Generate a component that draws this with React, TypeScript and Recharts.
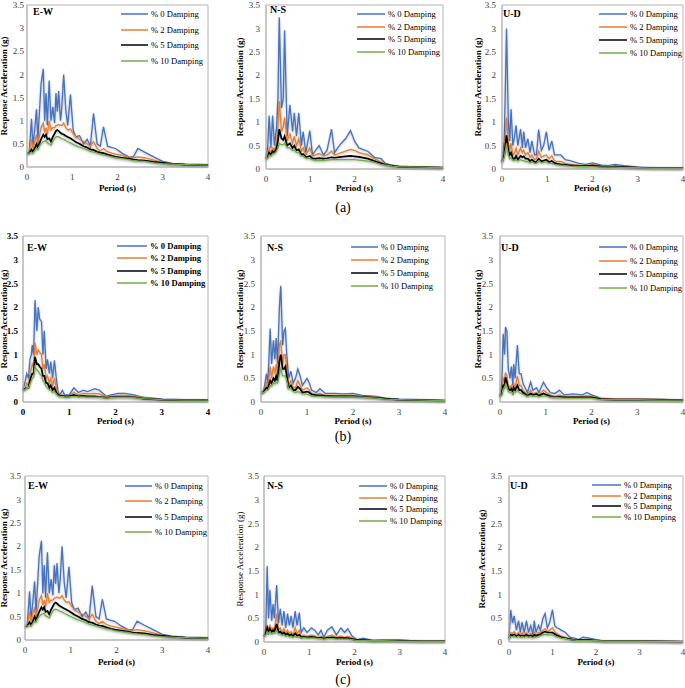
import React from 'react';
import { LineChart, Line, XAxis, YAxis, ReferenceArea, Legend } from 'recharts';

const SERIF = '"Liberation Serif", "Times New Roman", serif';
const SERIES = ['% 0 Damping', '% 2 Damping', '% 5 Damping', '% 10 Damping'];
const COLORS = ['#4472C4', '#ED7D31', '#000000', '#70AD47'];
const KEYS = ['d0', 'd2', 'd5', 'd10'];
const X_TICKS = [0, 1, 2, 3, 4];
const Y_TICKS = [0, 0.5, 1, 1.5, 2, 2.5, 3, 3.5];
const FRAME = '#b4b4b4';

// E-W, rows (a) and (c)
const ewPeriod = [0, .05, .1, .13, .17, .21, .24, .27, .31, .36, .39, .42, .45, .49, .53, .57, .61, .64, .67, .7, .74, .77, .81, .86, .9, .96, 1.02, 1.08, 1.16, 1.25, 1.33, 1.4, 1.47, 1.55, 1.62, 1.69, 1.78, 1.88, 1.96, 2.1, 2.25, 2.35, 2.45, 2.6, 2.8, 3.0, 3.2, 3.5, 4.0];
const ewD0 = [.3, .32, 1.04, .45, .8, 1.25, .6, 1.1, 1.79, 2.12, 1.0, 1.6, .9, 1.87, 1.0, 1.3, .95, 1.6, 1.2, 1.64, 1.0, 1.3, 2.0, 1.2, .9, 1.57, .8, .65, .68, .5, .6, .45, 1.16, .5, .45, .87, .45, .42, .4, .3, .22, .22, .4, .32, .22, .12, .08, .06, .05];
const ewD2 = [.3, .32, .6, .4, .55, .7, .5, .65, .85, .95, .75, .85, .7, 1.0, .8, .85, .85, .9, .9, .92, .9, .9, .95, .85, .8, .82, .72, .65, .6, .55, .5, .45, .55, .4, .35, .4, .33, .3, .28, .25, .22, .2, .22, .2, .15, .1, .07, .05, .04];
const ewD5 = [.3, .3, .38, .32, .4, .5, .42, .5, .6, .7, .65, .7, .6, .62, .55, .65, .72, .78, .8, .78, .74, .72, .7, .67, .65, .62, .58, .54, .5, .45, .42, .38, .37, .33, .31, .3, .27, .24, .22, .2, .18, .16, .15, .14, .11, .09, .07, .05, .04];
const ewD10 = [.3, .3, .32, .3, .35, .4, .38, .45, .5, .55, .56, .57, .52, .5, .47, .55, .62, .65, .66, .65, .63, .61, .6, .57, .55, .52, .49, .46, .43, .4, .37, .34, .32, .3, .28, .26, .24, .22, .2, .18, .16, .14, .13, .12, .09, .07, .06, .05, .04];

// N-S, row (a)
const aNsPeriod = [0, .04, .07, .11, .15, .19, .24, .27, .3, .35, .39, .42, .48, .54, .6, .64, .69, .74, .8, .84, .9, .99, 1.05, 1.12, 1.2, 1.3, 1.38, 1.48, 1.55, 1.62, 1.7, 1.8, 1.91, 2.0, 2.1, 2.3, 2.45, 2.6, 2.7, 2.85, 3.0, 3.5, 4.0];
const aNsD0 = [.22, .5, 1.14, .45, 1.14, .5, .9, 1.5, 3.24, 1.3, 1.5, 2.96, .7, 1.37, .8, 1.2, .7, 1.2, .5, .8, .35, .82, .3, .4, .5, .3, .4, .85, .35, .45, .55, .65, .82, .6, .45, .38, .25, .22, .12, .08, .06, .04, .03];
const aNsD2 = [.22, .3, .45, .35, .45, .4, .55, .9, 1.45, .8, .9, 1.1, .6, .75, .55, .7, .5, .65, .38, .45, .3, .45, .28, .3, .33, .28, .3, .38, .3, .32, .35, .38, .42, .4, .35, .3, .22, .15, .1, .07, .05, .04, .03];
const aNsD5 = [.22, .25, .35, .3, .38, .35, .45, .6, .85, .65, .62, .7, .5, .55, .45, .5, .4, .42, .3, .32, .25, .28, .22, .22, .23, .22, .23, .25, .24, .25, .26, .27, .28, .27, .26, .22, .17, .12, .09, .07, .05, .04, .03];
const aNsD10 = [.22, .23, .3, .28, .32, .33, .38, .45, .55, .52, .52, .55, .45, .45, .4, .4, .35, .35, .28, .28, .23, .22, .2, .18, .18, .18, .19, .2, .2, .2, .2, .2, .2, .2, .19, .17, .14, .1, .08, .06, .05, .04, .03];

// U-D, row (a)
const aUdPeriod = [0, .05, .1, .14, .17, .2, .24, .28, .31, .35, .41, .45, .48, .52, .57, .62, .66, .72, .76, .81, .87, .92, .98, 1.04, 1.1, 1.16, 1.22, 1.3, 1.4, 1.5, 1.7, 1.85, 2.0, 2.2, 2.35, 2.5, 2.7, 3.0, 3.3, 4.0];
const aUdD0 = [.15, .6, 3.0, 1.0, .6, 1.28, .5, .7, .93, .5, .85, .45, .8, .45, .65, .35, .6, .3, .3, .84, .4, .5, .8, .4, .6, .3, .3, .3, .2, .18, .12, .1, .13, .08, .07, .1, .07, .04, .03, .02];
const aUdD2 = [.15, .4, 1.1, .55, .4, .55, .3, .35, .45, .3, .45, .35, .4, .3, .35, .25, .3, .2, .22, .38, .25, .28, .3, .22, .28, .18, .16, .16, .12, .1, .08, .07, .1, .06, .05, .07, .05, .03, .03, .02];
const aUdD5 = [.15, .3, .72, .4, .3, .35, .22, .22, .28, .2, .28, .25, .27, .22, .22, .17, .2, .15, .15, .22, .17, .18, .2, .15, .17, .13, .11, .1, .09, .08, .06, .06, .07, .05, .04, .05, .04, .03, .02, .02];
const aUdD10 = [.15, .25, .55, .3, .22, .25, .18, .18, .2, .17, .2, .18, .18, .16, .16, .13, .15, .12, .12, .17, .13, .14, .15, .12, .12, .1, .09, .08, .07, .06, .05, .05, .05, .04, .04, .04, .03, .03, .02, .02];

// E-W, row (b)
const bEwPeriod = [0, .05, .08, .12, .15, .18, .2, .23, .26, .3, .33, .36, .4, .43, .46, .5, .53, .57, .6, .64, .68, .72, .76, .8, .85, .9, 1.0, 1.1, 1.2, 1.3, 1.4, 1.55, 1.65, 1.8, 1.9, 2.05, 2.2, 2.4, 2.6, 2.8, 3.0, 3.5, 4.0];
const bEwD0 = [.25, .45, .6, .5, .9, 1.0, 1.2, 1.0, 2.15, 1.5, 2.0, 1.75, 1.7, 1.0, 1.5, .7, .9, .6, .85, .5, .88, .5, .2, .15, .25, .15, .15, .3, .2, .25, .22, .28, .25, .12, .15, .18, .18, .15, .1, .08, .06, .05, .04];
const bEwD2 = [.25, .3, .4, .35, .6, .7, .8, .75, 1.25, 1.0, 1.1, 1.05, 1.0, .7, .8, .5, .55, .4, .5, .35, .5, .3, .18, .14, .15, .13, .13, .2, .15, .18, .17, .18, .17, .1, .12, .14, .14, .12, .09, .07, .05, .04, .04];
const bEwD5 = [.25, .28, .3, .3, .45, .55, .6, .6, .95, .8, .8, .75, .7, .55, .55, .4, .4, .3, .35, .25, .3, .2, .15, .13, .13, .12, .12, .15, .12, .13, .12, .12, .11, .09, .1, .11, .11, .1, .07, .06, .05, .04, .04];
const bEwD10 = [.25, .26, .3, .3, .38, .45, .5, .52, .75, .68, .65, .6, .55, .45, .42, .33, .3, .25, .25, .2, .22, .17, .13, .12, .12, .11, .11, .12, .11, .11, .1, .1, .1, .08, .09, .1, .1, .09, .07, .06, .05, .04, .04];

// N-S, row (b)
const bNsPeriod = [0, .05, .08, .12, .15, .2, .23, .27, .3, .33, .36, .4, .43, .47, .5, .53, .56, .6, .65, .7, .75, .8, .85, .9, 1.0, 1.05, 1.1, 1.2, 1.28, 1.4, 1.6, 1.8, 2.0, 2.2, 2.5, 2.7, 3.0, 3.5, 4.0];
const bNsD0 = [.2, .22, .35, .6, .4, 1.55, .8, 1.3, .9, 1.35, .8, 2.0, 2.45, 1.2, 1.5, 1.55, 1.0, .5, .65, .4, .5, .7, .55, .35, .5, .4, .25, .2, .28, .18, .18, .17, .18, .14, .12, .08, .06, .05, .03];
const bNsD2 = [.2, .21, .28, .4, .32, .75, .5, .75, .6, .8, .6, 1.2, 1.3, .8, 1.0, 1.0, .7, .35, .45, .3, .3, .45, .35, .25, .3, .25, .18, .16, .18, .14, .14, .14, .14, .12, .1, .07, .05, .04, .03];
const bNsD5 = [.2, .2, .25, .3, .28, .45, .4, .5, .45, .55, .45, .85, 1.0, .7, .7, .75, .55, .3, .35, .25, .25, .32, .28, .2, .22, .2, .16, .14, .14, .13, .12, .12, .12, .11, .09, .07, .05, .04, .03];
const bNsD10 = [.2, .2, .22, .25, .25, .35, .33, .4, .38, .42, .4, .6, .7, .55, .55, .55, .45, .28, .28, .22, .2, .22, .2, .17, .16, .15, .13, .12, .12, .11, .11, .11, .11, .1, .08, .06, .05, .04, .03];

// U-D, row (b)
const bUdPeriod = [0, .04, .07, .1, .12, .15, .18, .22, .25, .28, .3, .33, .38, .42, .46, .5, .55, .6, .67, .72, .8, .85, .95, 1.02, 1.1, 1.2, 1.3, 1.4, 1.6, 1.8, 1.9, 2.0, 2.2, 2.5, 3.0, 3.5, 4.0];
const bUdD0 = [.12, .4, 1.44, 1.0, 1.58, 1.5, .7, .5, .75, .35, .8, .5, 1.2, .6, .6, .4, .3, .2, .42, .25, .3, .2, .42, .3, .2, .18, .25, .15, .17, .15, .2, .15, .08, .06, .06, .05, .04];
const bUdD2 = [.12, .25, .5, .45, .62, .55, .35, .3, .35, .25, .4, .3, .55, .35, .35, .25, .2, .15, .25, .17, .2, .15, .25, .2, .15, .12, .15, .12, .12, .12, .13, .12, .07, .06, .06, .05, .04];
const bUdD5 = [.12, .18, .35, .35, .52, .42, .28, .25, .28, .2, .3, .25, .35, .25, .25, .2, .17, .13, .18, .15, .17, .13, .18, .15, .12, .1, .11, .1, .1, .1, .1, .1, .06, .05, .05, .05, .04];
const bUdD10 = [.12, .15, .28, .28, .38, .33, .22, .2, .22, .17, .22, .2, .25, .2, .18, .16, .14, .12, .14, .12, .13, .11, .13, .12, .1, .09, .09, .08, .08, .08, .08, .08, .05, .05, .05, .04, .04];

// N-S, row (c)
const cNsPeriod = [0, .04, .07, .1, .13, .17, .2, .23, .28, .32, .36, .4, .44, .48, .52, .56, .6, .64, .69, .73, .78, .82, .88, .95, 1.05, 1.12, 1.2, 1.26, 1.32, 1.4, 1.5, 1.6, 1.7, 1.78, 1.85, 1.95, 2.05, 2.2, 2.4, 2.6, 3.0, 3.5, 4.0];
const cNsD0 = [.12, .3, 1.6, .5, 1.1, .45, .8, .5, 1.2, .4, .7, .35, .65, .3, .6, .35, .55, .3, .65, .35, .62, .2, .3, .2, .3, .25, .15, .25, .1, .25, .32, .15, .3, .2, .28, .12, .05, .08, .03, .04, .04, .02, .02];
const cNsD2 = [.12, .2, .35, .25, .35, .25, .3, .25, .6, .25, .3, .2, .28, .18, .25, .18, .22, .15, .3, .17, .25, .12, .15, .12, .15, .13, .1, .12, .08, .12, .15, .1, .13, .1, .12, .08, .04, .05, .03, .03, .03, .02, .02];
const cNsD5 = [.12, .18, .3, .2, .28, .2, .25, .22, .38, .2, .22, .17, .2, .15, .18, .14, .16, .12, .18, .13, .15, .1, .11, .1, .11, .1, .08, .09, .07, .09, .1, .08, .09, .08, .08, .06, .04, .04, .03, .03, .03, .02, .02];
const cNsD10 = [.12, .15, .22, .18, .22, .17, .2, .18, .25, .17, .17, .14, .15, .12, .13, .11, .12, .1, .12, .1, .11, .08, .09, .08, .08, .08, .07, .07, .06, .07, .07, .06, .06, .06, .06, .05, .03, .03, .03, .03, .02, .02, .02];

// U-D, row (c)
const cUdPeriod = [0, .04, .08, .12, .17, .22, .26, .3, .35, .4, .45, .5, .55, .58, .62, .68, .72, .78, .83, .88, .93, 1.0, 1.05, 1.1, 1.15, 1.2, 1.3, 1.4, 1.5, 1.6, 1.7, 1.85, 2.0, 2.2, 2.5, 3.0, 4.0];
const cUdD0 = [.08, .68, .4, .55, .25, .45, .2, .42, .2, .45, .2, .35, .15, .45, .2, .35, .25, .5, .6, .3, .4, .68, .35, .3, .28, .25, .2, .1, .08, .05, .1, .08, .05, .02, .02, .02, .01];
const cUdD2 = [.08, .2, .18, .22, .15, .2, .15, .2, .15, .2, .15, .18, .13, .2, .15, .2, .2, .25, .28, .22, .25, .3, .22, .18, .15, .13, .1, .07, .05, .04, .05, .05, .04, .02, .02, .02, .01];
const cUdD5 = [.08, .15, .14, .16, .12, .15, .12, .14, .12, .15, .12, .14, .11, .15, .13, .15, .16, .2, .22, .2, .2, .2, .17, .14, .12, .1, .08, .06, .04, .04, .04, .04, .03, .02, .02, .02, .01];
const cUdD10 = [.08, .12, .11, .12, .1, .12, .1, .11, .1, .12, .1, .11, .09, .11, .1, .12, .13, .15, .16, .15, .15, .15, .13, .11, .1, .08, .07, .05, .04, .03, .03, .03, .03, .02, .02, .02, .01];

type Geo = {
  pl: number; pt: number; pr: number; pb: number;
  yTitleX: number; yTickGap: number; xTitleDy: number;
  lx1: number; lx2: number; ly: number; lgap: number;
  labelX: number; labelY: number;
};

type PanelProps = {
  title: string;
  period: number[];
  values: number[][];
  geo: Geo;
  boldTicks?: boolean;
  boldLegend?: boolean;
  plainYTitle?: boolean;
};

function Panel({ title, period, values, geo, boldTicks, boldLegend, plainYTitle }: PanelProps) {
  const mt = 8;
  const mr = 4;
  const mb = 3;
  const left = geo.yTitleX - 7;
  const top = geo.pt - mt;
  const yw = geo.pl - left;
  const xh = geo.xTitleDy + 3;
  const width = yw + (geo.pr - geo.pl) + mr;
  const height = mt + (geo.pb - geo.pt) + xh + mb;
  const rows = period.map((t, i) => ({
    t,
    d0: values[0][i],
    d2: values[1][i],
    d5: values[2][i],
    d10: values[3][i],
  }));
  const tick = {
    fontSize: 9,
    fontFamily: SERIF,
    fill: boldTicks ? '#000' : '#404040',
    fontWeight: boldTicks ? 700 : 400,
  };
  const lineLen = geo.lx2 - geo.lx1;

  return (
    <div style={{ position: 'absolute', left, top, width, height }}>
      <LineChart
        width={width}
        height={height}
        data={rows}
        margin={{ top: mt, right: mr, left: 0, bottom: mb }}
      >
        <XAxis
          dataKey="t"
          type="number"
          domain={[0, 4]}
          ticks={X_TICKS}
          interval={0}
          height={xh}
          tickLine={false}
          tickSize={4}
          tickMargin={3}
          axisLine={{ stroke: FRAME }}
          tick={tick}
          label={{
            value: 'Period (s)',
            position: 'insideBottom',
            offset: 0,
            style: { fontSize: 9, fontWeight: 700, fontFamily: SERIF, fill: '#000' },
          }}
        />
        <YAxis
          type="number"
          domain={[0, 3.5]}
          ticks={Y_TICKS}
          interval={0}
          width={yw}
          tickLine={false}
          tickSize={0}
          tickMargin={geo.yTickGap}
          axisLine={{ stroke: FRAME }}
          tick={tick}
          label={{
            value: 'Response Acceleration (g)',
            angle: -90,
            position: 'insideLeft',
            offset: geo.yTitleX - left,
            style: {
              textAnchor: 'middle',
              fontSize: 9,
              fontWeight: plainYTitle ? 400 : 700,
              fontFamily: SERIF,
              fill: '#000',
            },
          }}
        />
        <ReferenceArea x1={0} x2={4} y1={0} y2={3.5} fill="none" stroke={FRAME} strokeWidth={1} ifOverflow="visible" />
        {KEYS.map((k, i) => (
          <Line
            key={k}
            dataKey={k}
            name={SERIES[i]}
            type="linear"
            stroke={COLORS[i]}
            strokeWidth={i === 2 ? 1.7 : 1.3}
            dot={false}
            activeDot={false}
            isAnimationActive={false}
          />
        ))}
        <Legend
          layout="vertical"
          align="center"
          verticalAlign="middle"
          wrapperStyle={{ left: geo.lx1 - left, top: geo.ly - top - 6, width: 90, height: geo.lgap * 3 + 12 }}
          content={() => (
            <div style={{ position: 'relative', width: 90, height: geo.lgap * 3 + 12 }}>
              {SERIES.map((s, i) => (
                <div
                  key={s}
                  style={{
                    position: 'absolute',
                    left: 0,
                    top: i * geo.lgap,
                    height: 12,
                    display: 'flex',
                    alignItems: 'center',
                    whiteSpace: 'nowrap',
                  }}
                >
                  <svg width={lineLen} height={4} style={{ display: 'block' }}>
                    <line x1={0} y1={2} x2={lineLen} y2={2} stroke={COLORS[i]} strokeWidth={1.5} />
                  </svg>
                  <span
                    style={{
                      marginLeft: 3,
                      fontSize: 8.6,
                      lineHeight: '12px',
                      fontFamily: SERIF,
                      fontWeight: boldLegend ? 700 : 400,
                      color: '#000',
                    }}
                  >
                    {s}
                  </span>
                </div>
              ))}
            </div>
          )}
        />
      </LineChart>
      <div
        style={{
          position: 'absolute',
          left: geo.labelX - left,
          top: geo.labelY - top - 7,
          fontSize: 10,
          lineHeight: '14px',
          fontWeight: 700,
          fontFamily: SERIF,
          color: '#000',
        }}
      >
        {title}
      </div>
    </div>
  );
}

function Caption({ text, y }: { text: string; y: number }) {
  return (
    <div
      style={{
        position: 'absolute',
        left: 343 - 20,
        width: 40,
        top: y - 9,
        textAlign: 'center',
        fontSize: 14,
        lineHeight: '18px',
        fontFamily: SERIF,
        color: '#000',
      }}
    >
      {text}
    </div>
  );
}

export default function App() {
  return (
    <div
      style={{
        position: 'absolute',
        left: 0,
        top: 0,
        width: 685,
        height: 688,
        overflow: 'hidden',
        background: '#fff',
      }}
    >
      <style>{'.recharts-line-curve { filter: drop-shadow(0px 1.5px 1.2px rgba(0,0,0,0.28)); }'}</style>
      <Panel
        title="E-W"
        period={ewPeriod}
        values={[ewD0, ewD2, ewD5, ewD10]}
        geo={{ pl: 27, pt: 5, pr: 208, pb: 167, yTitleX: 4, yTickGap: 3, xTitleDy: 21, lx1: 121, lx2: 148, ly: 14, lgap: 15.7, labelX: 33, labelY: 12 }}
      />
      <Panel
        title="N-S"
        period={aNsPeriod}
        values={[aNsD0, aNsD2, aNsD5, aNsD10]}
        geo={{ pl: 266, pt: 5, pr: 443, pb: 169, yTitleX: 240, yTickGap: 6, xTitleDy: 19, lx1: 357, lx2: 385, ly: 14, lgap: 12.7, labelX: 270, labelY: 10 }}
      />
      <Panel
        title="U-D"
        period={aUdPeriod}
        values={[aUdD0, aUdD2, aUdD5, aUdD10]}
        geo={{ pl: 502, pt: 5, pr: 683, pb: 169, yTitleX: 478, yTickGap: 6, xTitleDy: 19, lx1: 599, lx2: 627, ly: 14, lgap: 13, labelX: 503, labelY: 14 }}
      />
      <Caption text="(a)" y={208} />

      <Panel
        title="E-W"
        period={bEwPeriod}
        values={[bEwD0, bEwD2, bEwD5, bEwD10]}
        boldTicks
        boldLegend
        geo={{ pl: 23, pt: 236, pr: 208, pb: 402, yTitleX: 4, yTickGap: 5, xTitleDy: 19, lx1: 117, lx2: 147, ly: 246, lgap: 12.3, labelX: 27, labelY: 248 }}
      />
      <Panel
        title="N-S"
        period={bNsPeriod}
        values={[bNsD0, bNsD2, bNsD5, bNsD10]}
        geo={{ pl: 261, pt: 236, pr: 445, pb: 402, yTitleX: 240, yTickGap: 6, xTitleDy: 19, lx1: 351, lx2: 378, ly: 247, lgap: 13, labelX: 267, labelY: 248 }}
      />
      <Panel
        title="U-D"
        period={bUdPeriod}
        values={[bUdD0, bUdD2, bUdD5, bUdD10]}
        geo={{ pl: 500, pt: 236, pr: 683, pb: 402, yTitleX: 478, yTickGap: 7, xTitleDy: 19, lx1: 599, lx2: 627, ly: 247, lgap: 13.7, labelX: 501, labelY: 248 }}
      />
      <Caption text="(b)" y={437} />

      <Panel
        title="E-W"
        period={ewPeriod}
        values={[ewD0, ewD2, ewD5, ewD10]}
        geo={{ pl: 25, pt: 476, pr: 208, pb: 640, yTitleX: 4, yTickGap: 4, xTitleDy: 22, lx1: 125, lx2: 152, ly: 486, lgap: 15.3, labelX: 28, labelY: 486 }}
      />
      <Panel
        title="N-S"
        period={cNsPeriod}
        values={[cNsD0, cNsD2, cNsD5, cNsD10]}
        plainYTitle
        geo={{ pl: 264, pt: 476, pr: 445, pb: 642, yTitleX: 240, yTickGap: 5, xTitleDy: 20, lx1: 359, lx2: 387, ly: 486, lgap: 11.7, labelX: 267, labelY: 486 }}
      />
      <Panel
        title="U-D"
        period={cUdPeriod}
        values={[cUdD0, cUdD2, cUdD5, cUdD10]}
        geo={{ pl: 509, pt: 476, pr: 683, pb: 642, yTitleX: 482, yTickGap: 7, xTitleDy: 20, lx1: 592, lx2: 621, ly: 485, lgap: 10.7, labelX: 510, labelY: 486 }}
      />
      <Caption text="(c)" y={680} />
    </div>
  );
}
